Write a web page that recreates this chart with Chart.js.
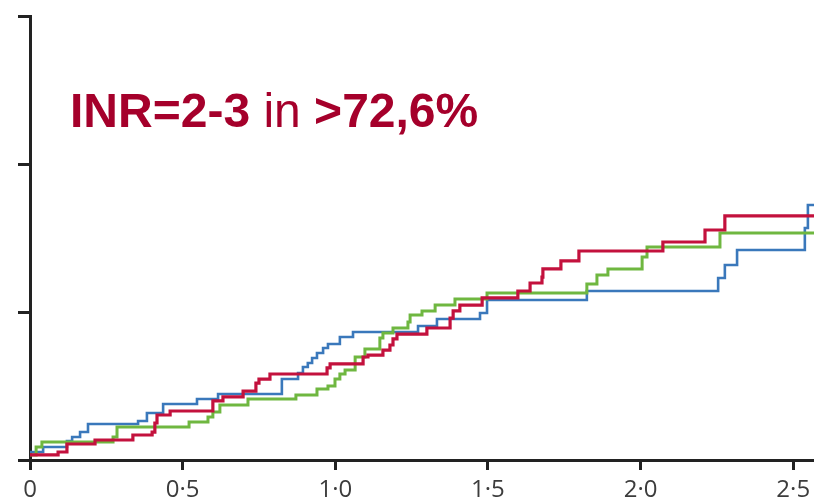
<!DOCTYPE html>
<html>
<head>
<meta charset="utf-8">
<script src="https://cdn.jsdelivr.net/npm/chart.js@4.4.1/dist/chart.umd.min.js"></script>
<style>
  html, body { margin: 0; padding: 0; background: #fff; }
  #wrap { position: relative; width: 814px; height: 502px; overflow: hidden; }
  #note {
    position: absolute; left: 70px; top: 87px;
    font-family: "Liberation Sans", Arial, sans-serif;
    font-size: 48px; line-height: 48px; color: #a5002b; white-space: nowrap;
  }
  #note b { font-weight: bold; }
</style>
</head>
<body>
<div id="wrap">
  <canvas id="km" width="814" height="502"></canvas>
  <div id="note"><b>INR=2-3</b> in <b>&gt;72,6%</b></div>
</div>
<script>
// step points: the line jumps to y at x
const blueX = [0, 0.043, 0.121, 0.138, 0.164, 0.190, 0.354, 0.383, 0.436, 0.547, 0.616, 0.825, 0.878, 0.894, 0.910, 0.924, 0.940, 0.960, 0.976, 1.015, 1.058, 1.271, 1.333, 1.474, 1.497, 1.824, 2.254, 2.276, 2.316, 2.538, 2.548, 2.568];
const blueY = [0.54, 0.88, 1.28, 1.55, 1.89, 2.43, 2.64, 3.18, 3.78, 4.12, 4.46, 5.47, 5.88, 6.28, 6.55, 6.89, 7.23, 7.57, 7.84, 8.31, 8.65, 9.05, 9.53, 9.93, 10.81, 11.42, 12.30, 13.18, 14.19, 15.68, 17.23, 17.23];

const greenX = [0, 0.020, 0.039, 0.272, 0.285, 0.521, 0.583, 0.599, 0.622, 0.714, 0.871, 0.940, 0.976, 0.999, 1.015, 1.032, 1.065, 1.097, 1.146, 1.156, 1.189, 1.238, 1.245, 1.284, 1.327, 1.392, 1.497, 1.824, 1.857, 1.893, 2.005, 2.021, 2.260, 2.568];
const greenY = [0.34, 0.88, 1.22, 1.55, 2.23, 2.57, 2.91, 3.24, 3.72, 4.12, 4.39, 4.80, 5.00, 5.47, 5.81, 6.08, 6.96, 7.50, 8.24, 8.58, 8.92, 9.32, 9.80, 10.07, 10.47, 10.88, 11.28, 11.89, 12.50, 12.91, 13.72, 14.39, 15.34, 15.34];

const redX = [0, 0.092, 0.121, 0.213, 0.337, 0.400, 0.409, 0.416, 0.459, 0.599, 0.632, 0.698, 0.740, 0.750, 0.786, 0.973, 0.983, 1.091, 1.107, 1.156, 1.179, 1.189, 1.202, 1.300, 1.376, 1.386, 1.408, 1.481, 1.598, 1.638, 1.677, 1.680, 1.739, 1.798, 2.073, 2.211, 2.276, 2.568];
const redY = [0.34, 0.54, 1.08, 1.35, 1.69, 1.89, 2.50, 3.04, 3.31, 3.99, 4.26, 4.66, 5.20, 5.47, 5.81, 6.22, 6.49, 6.96, 7.09, 7.43, 7.77, 8.18, 8.51, 8.92, 9.59, 10.07, 10.47, 10.95, 11.42, 11.96, 12.36, 12.91, 13.45, 14.12, 14.73, 15.54, 16.49, 16.49];

const xTicks = [0, 0.5, 1.0, 1.5, 2.0, 2.5];
const yTicks = [0, 10, 20, 30];

const pts = (xs, ys) => xs.map((x, i) => ({ x: x, y: ys[i] }));

const line = (label, xs, ys, color, width) => ({
  label: label,
  data: pts(xs, ys),
  borderColor: color,
  borderWidth: width,
  stepped: 'before',
  pointRadius: 0,
  fill: false
});

new Chart(document.getElementById('km'), {
  type: 'line',
  data: {
    // first dataset ends up on top
    datasets: [
      line('red', redX, redY, '#c3113d', 3.2),
      line('green', greenX, greenY, '#6fb740', 3),
      line('blue', blueX, blueY, '#3a78bb', 2.6)
    ]
  },
  options: {
    responsive: false,
    animation: false,
    layout: { padding: { left: 18, top: 16, right: 0, bottom: -8 } },
    plugins: {
      legend: { display: false },
      tooltip: { enabled: false }
    },
    scales: {
      x: {
        type: 'linear',
        min: 0,
        max: 2.568,
        afterBuildTicks: (axis) => { axis.ticks = xTicks.map(v => ({ value: v })); },
        // the plot runs off the right edge, no room kept for the last label
        afterFit: (axis) => { axis.paddingRight = 0; axis.paddingLeft = 0; },
        ticks: {
          color: '#3c3c3c',
          padding: 8,
          maxRotation: 0,
          font: { family: '"Open Sans", sans-serif', size: 24, lineHeight: 1 },
          callback: (v) => v === 0 ? '0' : v.toFixed(1).replace('.', '\u00b7')
        },
        grid: { drawOnChartArea: false, drawTicks: true, tickLength: 10, color: '#222', lineWidth: 3 },
        border: { display: true, color: '#222', width: 3 }
      },
      y: {
        min: 0,
        max: 30,
        afterBuildTicks: (axis) => { axis.ticks = yTicks.map(v => ({ value: v })); },
        ticks: { display: false },
        grid: { drawOnChartArea: false, drawTicks: true, tickLength: 12, color: '#222', lineWidth: 3 },
        border: { display: true, color: '#222', width: 3 }
      }
    }
  }
});
</script>
</body>
</html>
